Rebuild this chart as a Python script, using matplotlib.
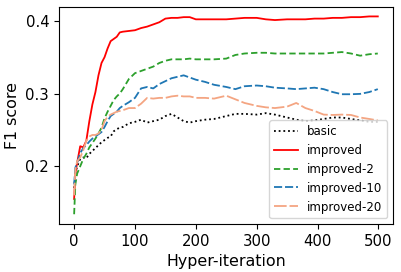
import matplotlib
matplotlib.use("Agg")
import matplotlib.pyplot as plt

iterations = [0, 2, 5, 10, 15, 20, 25, 30, 35, 40, 45, 50, 55, 60, 65, 70, 75, 80, 90,
              100, 110, 120, 130, 140, 150, 160, 170, 180, 190, 200, 215, 230, 250, 265,
              280, 300, 315, 330, 350, 365, 380, 395, 410, 425, 440, 455, 470, 485, 499]

basic = [0.170, 0.190, 0.200, 0.210, 0.212, 0.211, 0.217, 0.221, 0.225, 0.229, 0.233, 0.236,
         0.239, 0.241, 0.248, 0.251, 0.253, 0.254, 0.259, 0.261, 0.264, 0.260, 0.262, 0.264,
         0.269, 0.272, 0.267, 0.262, 0.260, 0.262, 0.264, 0.265, 0.269, 0.272, 0.272, 0.271,
         0.273, 0.271, 0.267, 0.264, 0.262, 0.263, 0.265, 0.267, 0.267, 0.265, 0.263, 0.261,
         0.261]

improved = [0.155, 0.190, 0.205, 0.2275, 0.226, 0.235, 0.262, 0.285, 0.302, 0.325, 0.342, 0.350,
            0.362, 0.372, 0.375, 0.378, 0.384, 0.385, 0.386, 0.387, 0.390, 0.392, 0.395, 0.398,
            0.403, 0.404, 0.404, 0.405, 0.405, 0.402, 0.402, 0.402, 0.402, 0.403, 0.404, 0.404,
            0.402, 0.401, 0.402, 0.402, 0.402, 0.403, 0.403, 0.404, 0.404, 0.405, 0.405, 0.406,
            0.406]

improved_2 = [0.134, 0.175, 0.190, 0.200, 0.210, 0.217, 0.226, 0.232, 0.238, 0.245, 0.253, 0.266,
              0.275, 0.283, 0.291, 0.296, 0.300, 0.306, 0.320, 0.328, 0.331, 0.334, 0.337, 0.342,
              0.345, 0.347, 0.347, 0.347, 0.348, 0.347, 0.347, 0.347, 0.348, 0.353, 0.355, 0.356,
              0.356, 0.355, 0.355, 0.355, 0.355, 0.355, 0.355, 0.356, 0.357, 0.355, 0.352, 0.354,
              0.355]

improved_10 = [0.175, 0.198, 0.205, 0.218, 0.225, 0.229, 0.234, 0.238, 0.241, 0.244, 0.247, 0.254,
               0.262, 0.269, 0.272, 0.275, 0.280, 0.283, 0.288, 0.294, 0.307, 0.309, 0.307, 0.313,
               0.317, 0.321, 0.323, 0.325, 0.322, 0.319, 0.316, 0.312, 0.309, 0.306, 0.310, 0.311,
               0.310, 0.308, 0.307, 0.306, 0.307, 0.308, 0.306, 0.302, 0.299, 0.299, 0.2995, 0.302,
               0.306]

improved_20 = [0.160, 0.195, 0.207, 0.212, 0.222, 0.235, 0.241, 0.243, 0.243, 0.245, 0.250, 0.262,
               0.268, 0.271, 0.273, 0.275, 0.276, 0.277, 0.280, 0.280, 0.286, 0.294, 0.293, 0.294,
               0.294, 0.296, 0.297, 0.296, 0.296, 0.294, 0.294, 0.293, 0.297, 0.292, 0.287, 0.283,
               0.281, 0.280, 0.282, 0.287, 0.280, 0.276, 0.271, 0.2705, 0.271, 0.2705, 0.267, 0.265,
               0.263]

labels = ["basic", "improved", "improved-2", "improved-10", "improved-20"]

fig = plt.figure(figsize=(4.01, 2.72), dpi=100)
ax = fig.add_axes([0.147, 0.176, 0.833, 0.800])

ax.plot(iterations, basic, color="black", linestyle=(0, (1, 1.6)), lw=1.3, label=labels[0])
ax.plot(iterations, improved, color="#ff0000", linestyle="-", lw=1.3, label=labels[1])
ax.plot(iterations, improved_2, color="#2ca02c", linestyle=(0, (3.5, 1.8)), lw=1.3, label=labels[2])
ax.plot(iterations, improved_10, color="#1f77b4", linestyle=(0, (4.5, 1.6)), lw=1.3, label=labels[3])
ax.plot(iterations, improved_20, color="#f4a582", linestyle=(0, (7, 1.6)), lw=1.3, label=labels[4])

ax.set_xticks([0, 100, 200, 300, 400, 500])
ax.set_yticks([0.2, 0.3, 0.4])
ax.set_yticklabels(["0.2", "0.3", "0.4"])
ax.tick_params(labelsize=10.7)
ax.set_xlabel("Hyper-iteration", fontsize=11.4)
ax.set_ylabel("F1 score", fontsize=11.4)
ax.legend(loc="lower right", fontsize=8.5)

fig.savefig("out.png", dpi=100)
